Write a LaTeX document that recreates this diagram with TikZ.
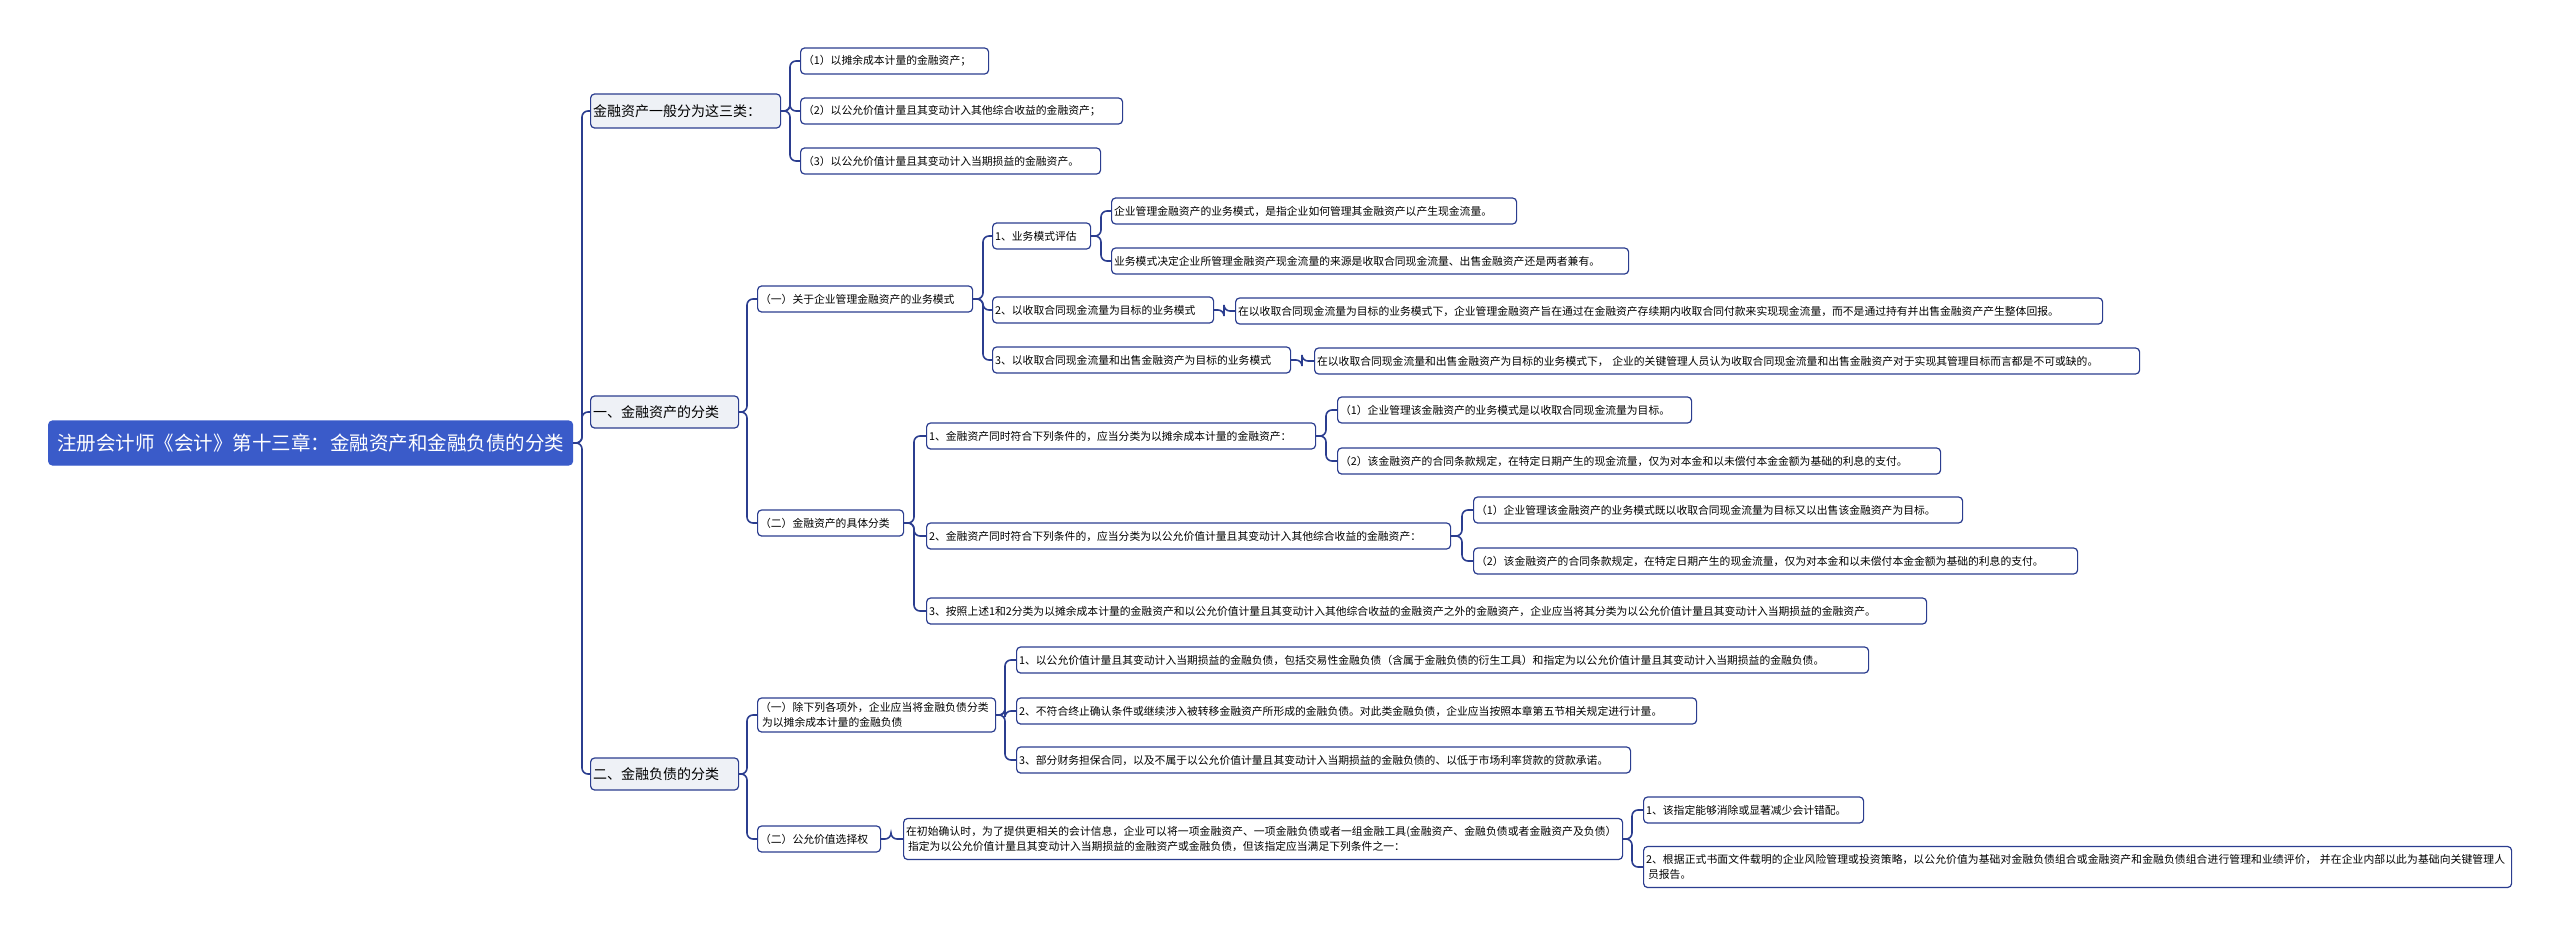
\documentclass[tikz,border=0pt]{standalone}
\usepackage{fontspec}
\setmainfont{Noto Sans CJK SC}
\XeTeXlinebreaklocale "zh"
\XeTeXlinebreakskip=0pt plus 1pt
\definecolor{ln}{HTML}{2B3D8F}
\definecolor{rootc}{HTML}{3A5BC9}
\definecolor{lv1}{HTML}{EEF1F6}
\begin{document}
\begin{tikzpicture}[x=1pt,y=-1pt,
  b/.style={draw=ln,line width=1.2pt,rounded corners=4pt,fill=white,anchor=west,align=left,inner sep=0pt,font=\fontsize{10.8}{15}\selectfont},
  l1/.style={b,fill=lv1,font=\fontsize{14}{18}\selectfont},
  rt/.style={b,fill=rootc,draw=rootc,text=white,font=\fontsize{19.5}{24}\selectfont},
  c/.style={draw=ln,line width=1.6pt,rounded corners=6pt}]
\useasboundingbox (0,0) rectangle (2560,936);
\newcommand\mbx[7][b]{\pgfmathsetmacro\mw{#4-#3}\pgfmathsetmacro\tw{#4-#3-9}\node[#1,minimum width=\mw pt,minimum height=#6,text width=\tw pt] (#2) at (#3,#5) {\hspace*{-2pt}#7};}
\mbx[rt]{root}{48}{572}{443}{44}{\hspace*{6pt}注册会计师《会计》第十三章：金融资产和金融负债的分类}
\mbx[l1]{a}{590}{780}{111}{34}{金融资产一般分为这三类：}
\mbx[l1]{b1}{590}{738}{412}{32}{一、金融资产的分类}
\mbx[l1]{c1}{590}{738}{774}{32}{二、金融负债的分类}
\mbx{a1}{800}{988}{61}{26}{（1）以摊余成本计量的金融资产；}
\mbx{a2}{800}{1122}{111}{26}{（2）以公允价值计量且其变动计入其他综合收益的金融资产；}
\mbx{a3}{800}{1100}{161}{26}{（3）以公允价值计量且其变动计入当期损益的金融资产。}
\mbx{ba}{757}{972}{299}{26}{（一）关于企业管理金融资产的业务模式}
\mbx{bb}{757}{903}{523}{26}{（二）金融资产的具体分类}
\mbx{ba1}{992}{1090}{236}{26}{1、业务模式评估}
\mbx{ba2}{992}{1213}{310}{26}{2、以收取合同现金流量为目标的业务模式}
\mbx{ba3}{992}{1290}{360}{26}{3、以收取合同现金流量和出售金融资产为目标的业务模式}
\mbx{ba11}{1111}{1516}{211}{26}{企业管理金融资产的业务模式，是指企业如何管理其金融资产以产生现金流量。}
\mbx{ba12}{1111}{1628}{261}{26}{业务模式决定企业所管理金融资产现金流量的来源是收取合同现金流量、出售金融资产还是两者兼有。}
\mbx{ba21}{1235}{2102}{311}{26}{在以收取合同现金流量为目标的业务模式下，企业管理金融资产旨在通过在金融资产存续期内收取合同付款来实现现金流量，而不是通过持有并出售金融资产产生整体回报。}
\mbx{ba31}{1314}{2139}{361}{26}{在以收取合同现金流量和出售金融资产为目标的业务模式下， 企业的关键管理人员认为收取合同现金流量和出售金融资产对于实现其管理目标而言都是不可或缺的。}
\mbx{bb1}{926}{1315}{436}{26}{1、金融资产同时符合下列条件的，应当分类为以摊余成本计量的金融资产：}
\mbx{bb2}{926}{1450}{536}{26}{2、金融资产同时符合下列条件的，应当分类为以公允价值计量且其变动计入其他综合收益的金融资产：}
\mbx{bb3}{926}{1926}{611}{26}{3、按照上述1和2分类为以摊余成本计量的金融资产和以公允价值计量且其变动计入其他综合收益的金融资产之外的金融资产，企业应当将其分类为以公允价值计量且其变动计入当期损益的金融资产。}
\mbx{bb11}{1337}{1691}{410}{26}{（1）企业管理该金融资产的业务模式是以收取合同现金流量为目标。}
\mbx{bb12}{1337}{1940}{461}{26}{（2）该金融资产的合同条款规定，在特定日期产生的现金流量，仅为对本金和以未偿付本金金额为基础的利息的支付。}
\mbx{bb21}{1473}{1962}{510}{26}{（1）企业管理该金融资产的业务模式既以收取合同现金流量为目标又以出售该金融资产为目标。}
\mbx{bb22}{1473}{2077}{561}{26}{（2）该金融资产的合同条款规定，在特定日期产生的现金流量，仅为对本金和以未偿付本金金额为基础的利息的支付。}
\mbx{ca}{757}{995}{715}{34}{（一）除下列各项外，企业应当将金融负债分类为以摊余成本计量的金融负债}
\mbx{cb}{757}{880}{839}{26}{（二）公允价值选择权}
\mbx{ca1}{1016}{1868}{660}{26}{1、以公允价值计量且其变动计入当期损益的金融负债，包括交易性金融负债（含属于金融负债的衍生工具）和指定为以公允价值计量且其变动计入当期损益的金融负债。}
\mbx{ca2}{1016}{1696}{711}{26}{2、不符合终止确认条件或继续涉入被转移金融资产所形成的金融负债。对此类金融负债，企业应当按照本章第五节相关规定进行计量。}
\mbx{ca3}{1016}{1630}{760}{26}{3、部分财务担保合同，以及不属于以公允价值计量且其变动计入当期损益的金融负债的、以低于市场利率贷款的贷款承诺。}
\mbx{cb1}{903}{1622}{839}{41}{在初始确认时，为了提供更相关的会计信息，企业可以将一项金融资产、一项金融负债或者一组金融工具(金融资产、金融负债或者金融资产及负债）指定为以公允价值计量且其变动计入当期损益的金融资产或金融负债，但该指定应当满足下列条件之一：}
\mbx{cb11}{1643}{1863}{810}{26}{1、该指定能够消除或显著减少会计错配。}
\mbx{cb12}{1643}{2511}{867}{41}{2、根据正式书面文件载明的企业风险管理或投资策略，以公允价值为基础对金融负债组合或金融资产和金融负债组合进行管理和业绩评价， 并在企业内部以此为基础向关键管理人员报告。}
\newcommand\fan[3]{\coordinate (s#1) at (#2,0);\foreach \k in {#3} \draw[c] (#1.east) -- (#1.east -| s#1) |- (\k.west);}
\fan{root}{582}{a,b1,c1}
\fan{a}{790}{a1,a2,a3}
\fan{b1}{747}{ba,bb}
\fan{c1}{747}{ca,cb}
\fan{ba}{983}{ba1,ba2,ba3}
\fan{ba1}{1101}{ba11,ba12}
\fan{ba2}{1224}{ba21}
\fan{ba3}{1302}{ba31}
\fan{bb}{914}{bb1,bb2,bb3}
\fan{bb1}{1326}{bb11,bb12}
\fan{bb2}{1462}{bb21,bb22}
\fan{ca}{1005}{ca1,ca2,ca3}
\fan{cb}{891}{cb1}
\fan{cb1}{1632}{cb11,cb12}
\end{tikzpicture}
\end{document}
